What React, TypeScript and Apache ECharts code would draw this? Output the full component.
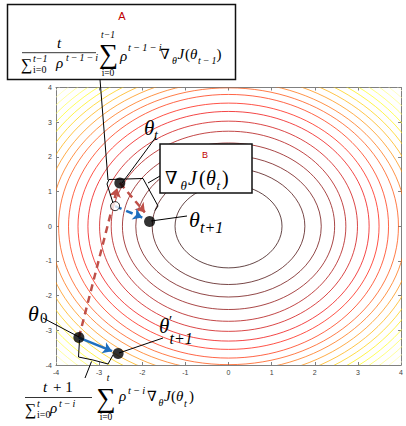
import React, { useEffect, useRef } from "react";
import * as echarts from "echarts";

// ---- data ----
const axisMin = -4;
const axisMax = 4;
const axisStep = 1;
const contourCenter = [0, 0];
// semi-axes (data units) of the contour levels, innermost first
const levelRadiusX = [1.24, 1.77, 2.15, 2.46, 2.72, 2.99, 3.26, 3.49, 3.71, 3.94, 4.13, 4.31, 4.49, 4.66, 4.82, 4.98, 5.13, 5.28, 5.43, 5.57];
const levelRadiusY = [1.2, 1.68, 2.04, 2.4, 2.74, 3.03, 3.31, 3.55, 3.8, 3.99, 4.17, 4.36, 4.54, 4.71, 4.88, 5.04, 5.19, 5.35, 5.5, 5.64];
const levelColors = ["#2a0000", "#440000", "#660000", "#880000", "#aa0000", "#cc0000", "#ee0000", "#ff1000", "#ff2a00", "#ff4a00", "#ff6a00", "#ff8c00", "#ffad00", "#ffce00", "#ffef00", "#ffff1a", "#ffff4b", "#ffff7a", "#ffffaa", "#ffffdc"];
// θ0, θ'_{t+1}, θ_t, θ_{t+1}
const thetaPoints = [[-3.47, -3.21], [-2.56, -3.67], [-2.52, 1.25], [-1.83, 0.14]];
const lookaheadPoint = [[-2.63, 0.58]];
const blueSolidArrow = [[-3.47, -3.21], [-2.7, -3.6]];
const redDashArrowA = [[-3.47, -3.21], [-2.58, 1.1]];
const redDashArrowB = [[-2.52, 1.25], [-1.94, 0.4]];
const blueDashArrow = [[-2.63, 0.58], [-2.0, 0.25]];

const SERIF = '"Liberation Serif", "DejaVu Serif", serif';
const SANS = '"Liberation Sans", Arial, sans-serif';
const TS = "\u2009"; // thin space

function tx(text: string, x: number, y: number, size: number, o: any = {}) {
  return {
    type: "text",
    x,
    y,
    z: 100,
    silent: true,
    style: {
      text,
      fontSize: size,
      fontFamily: o.family || SERIF,
      fontStyle: o.italic ? "italic" : "normal",
      fill: o.color || "#000",
      align: o.align || "left",
      verticalAlign: "middle",
    },
  };
}
function ln(x1: number, y1: number, x2: number, y2: number, w = 1) {
  return { type: "line", z: 100, silent: true, shape: { x1, y1, x2, y2 }, style: { stroke: "#000", lineWidth: w } };
}
function pl(points: number[][], w = 1) {
  return { type: "polyline", z: 100, silent: true, shape: { points }, style: { stroke: "#000", lineWidth: w, fill: null } };
}
function box(x: number, y: number, width: number, height: number) {
  return { type: "rect", z: 99, silent: true, shape: { x, y, width, height }, style: { fill: "#fff", stroke: "#111", lineWidth: 1.5 } };
}

const I = { italic: true };
const tm1 = `t${TS}−${TS}1`;
const tm1mi = `t${TS}−${TS}1${TS}−${TS}i`;
const tmi = `t${TS}−${TS}i`;

const graphics: any[] = [
  // Box A
  box(7.5, 4.5, 228, 75),
  tx("A", 122, 16, 11, { family: SANS, color: "#c00000", align: "center" }),
  tx("t", 59, 43, 15, { italic: true, align: "center" }),
  ln(22, 52.7, 96, 52.7, 0.8),
  tx("∑", 21, 64, 16),
  tx("t−1", 33, 58.5, 10, I),
  tx("i=0", 33, 69.5, 10),
  tx("ρ", 56, 63, 15, I),
  tx(tm1mi, 66, 57.5, 10, I),
  tx("∑", 108.5, 54, 27, { align: "center" }),
  tx("t−1", 108, 35, 9.5, { italic: true, align: "center" }),
  tx("i=0", 108, 73, 9.5, { align: "center" }),
  tx("ρ", 120, 55.5, 15, I),
  tx(tm1mi, 128, 47.5, 10.5, I),
  tx("∇", 160, 54, 14),
  tx("θ", 172, 60.5, 10, I),
  tx("J", 177.5, 54, 15, I),
  tx("(", 185, 54, 15),
  tx("θ", 190, 54, 15, I),
  tx(tm1, 198, 60.5, 10, I),
  tx(")", 216.5, 54, 15),
  ln(100, 79.5, 108, 180),

  // Box B
  box(160, 144, 92, 49),
  tx("B", 205, 155, 9, { family: SANS, color: "#c00000", align: "center" }),
  tx("∇", 165, 178, 18),
  tx("θ", 180.5, 185, 13, I),
  tx("J", 188, 178, 20, I),
  tx("(", 199, 178, 20),
  tx("θ", 206, 178, 20, I),
  tx("t", 216.5, 185, 13, I),
  tx(")", 222, 178, 20),
  ln(148, 183, 160, 176),

  // bracket around θ_t step
  pl([[113, 203], [107, 184], [109, 179.5], [143, 178.5], [158, 206], [155, 210.5]]),

  // labels
  tx("θ", 144, 128, 21, I),
  tx("t", 154, 135, 14, I),
  ln(122, 183, 156, 137),
  tx("θ", 189, 219, 22, I),
  tx("t+1", 200, 227, 16, I),
  ln(151, 221, 187, 216),
  tx("θ", 159, 326, 21, I),
  tx("′", 169, 321, 15),
  tx("t+1", 169.5, 338, 16, I),
  ln(119, 353, 163, 338),
  tx("θ", 28, 313, 22, I),
  tx("0", 40, 318, 15),
  ln(79, 337, 43, 318),

  // bottom bracket
  pl([[79.5, 340], [78.5, 357], [93, 360], [108, 364], [113, 355]]),
  ln(91.5, 361.5, 85, 378),

  // bottom formula
  tx("t", 43, 387, 15, I),
  tx("+ 1", 53, 387, 15),
  ln(25, 397.5, 92, 397.5, 0.8),
  tx("∑", 25, 409, 16),
  tx("t", 37, 403, 10, I),
  tx("i=0", 37, 414, 10),
  tx("ρ", 50, 408, 15, I),
  tx(tmi, 59, 403.5, 10, I),
  tx("∑", 106, 397.5, 27, { align: "center" }),
  tx("t", 108, 378, 9.5, { italic: true, align: "center" }),
  tx("i=0", 106, 416.5, 9.5, { align: "center" }),
  tx("ρ", 119, 396, 15, I),
  tx(tmi, 128, 390, 10.5, I),
  tx("∇", 147, 396, 14),
  tx("θ", 158.5, 402.5, 10, I),
  tx("J", 164, 396, 15, I),
  tx("(", 171, 396, 15),
  tx("θ", 176, 396, 15, I),
  tx("t", 184, 403, 10, I),
  tx(")", 189, 396, 15),
];

const axisLine = { show: true, onZero: false, lineStyle: { color: "#808080", width: 1 } };
const axisTick = { show: true, inside: true, length: 3, lineStyle: { color: "#808080" } };
const axisLabel = { fontSize: 7, color: "#404040", fontFamily: SANS, margin: 4 };

export default function App() {
  const ref = useRef<HTMLDivElement>(null);
  useEffect(() => {
    if (!ref.current) return;
    const chart = echarts.init(ref.current, null, { renderer: "svg" });
    chart.setOption({
      animation: false,
      backgroundColor: "#fff",
      grid: { left: 56, right: 1, top: 87.5, bottom: 61, containLabel: false },
      xAxis: [
        { type: "value", min: axisMin, max: axisMax, interval: axisStep, position: "bottom", axisLine, axisTick, axisLabel, splitLine: { show: false } },
        { type: "value", min: axisMin, max: axisMax, interval: axisStep, position: "top", axisLine, axisTick, axisLabel: { show: false }, splitLine: { show: false } },
      ],
      yAxis: [
        { type: "value", min: axisMin, max: axisMax, interval: axisStep, position: "left", axisLine, axisTick, axisLabel, splitLine: { show: false } },
        { type: "value", min: axisMin, max: axisMax, interval: axisStep, position: "right", axisLine, axisTick, axisLabel: { show: false }, splitLine: { show: false } },
      ],
      series: [
        {
          type: "custom",
          coordinateSystem: "cartesian2d",
          clip: true,
          silent: true,
          z: 1,
          data: levelRadiusX.map((rx, i) => [rx, levelRadiusY[i]]),
          encode: { x: 0, y: 1 },
          renderItem: (params: any, api: any) => {
            const c = api.coord(contourCenter);
            const s = api.size([api.value(0), api.value(1)]);
            return {
              type: "ellipse",
              shape: { cx: c[0], cy: c[1], rx: s[0], ry: s[1] },
              style: { fill: "none", stroke: levelColors[params.dataIndex], lineWidth: 1, opacity: 0.72 },
            };
          },
        },
        {
          type: "lines",
          coordinateSystem: "cartesian2d",
          z: 5,
          silent: true,
          symbol: ["none", "arrow"],
          symbolSize: 9,
          lineStyle: { color: "#bf5049", width: 2.5, type: [7, 5], opacity: 1 },
          data: [{ coords: redDashArrowA }, { coords: redDashArrowB }],
        },
        {
          type: "lines",
          coordinateSystem: "cartesian2d",
          z: 5,
          silent: true,
          symbol: ["none", "arrow"],
          symbolSize: 9,
          lineStyle: { color: "#1f6fbf", width: 2.5, type: [7, 5], opacity: 1 },
          data: [{ coords: blueDashArrow }],
        },
        {
          type: "lines",
          coordinateSystem: "cartesian2d",
          z: 5,
          silent: true,
          symbol: ["none", "arrow"],
          symbolSize: 9,
          lineStyle: { color: "#1f6fbf", width: 2.5, type: "solid", opacity: 1 },
          data: [{ coords: blueSolidArrow }],
        },
        {
          type: "scatter",
          z: 10,
          silent: true,
          symbolSize: 9,
          itemStyle: { color: "#fff", borderColor: "#000", borderWidth: 1 },
          data: lookaheadPoint,
        },
        {
          type: "scatter",
          z: 10,
          silent: true,
          symbolSize: 11,
          itemStyle: { color: "#000" },
          data: thetaPoints,
        },
      ],
      graphic: graphics,
    });
    return () => chart.dispose();
  }, []);
  return <div ref={ref} style={{ position: "fixed", left: 0, top: 0, width: 406, height: 426 }} />;
}
